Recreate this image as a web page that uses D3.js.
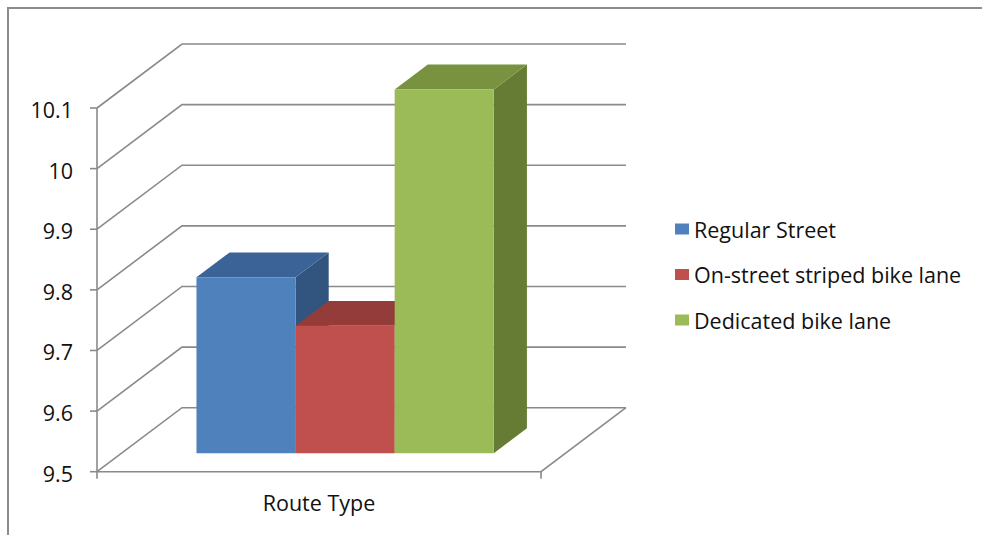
<!DOCTYPE html>
<html>
<head>
<meta charset="utf-8">
<script src="https://cdn.jsdelivr.net/npm/d3@7"></script>
<style>
  html, body { margin: 0; padding: 0; background: #fff; }
  svg { display: block; }
</style>
</head>
<body>
<div id="chart"></div>
<script>
// ------- data -------
const category = "Route Type";
const series = ["Regular Street", "On-street striped bike lane", "Dedicated bike lane"];
const values = [9.79, 9.71, 10.1];
const yTicks = [9.5, 9.6, 9.7, 9.8, 9.9, 10, 10.1];
const tickLabels = ["9.5", "9.6", "9.7", "9.8", "9.9", "10", "10.1"];

// colours per series: front / top / side
const frontColors = ["#4f81bd", "#c0504d", "#9bbb59"];
const topColors = ["#3b6398", "#943c3a", "#78923f"];
const sideColors = ["#32557f", "#87332f", "#667c35"];

(() => {
  const width = 982, height = 535;
  const DX = 85, DY = -64;           // depth offset of the back wall
  const T0 = 0.29, T1 = 0.68;        // bar depth (fraction of floor depth)
  const gridColor = "#8a8a8a";
  const FONT = "'Open Sans', Lato, sans-serif";
  const FS = 21.5;

  const svg = d3.select("#chart").append("svg")
    .attr("width", width).attr("height", height);

  // frame (only top and left edges show)
  svg.append("path")
    .attr("d", `M8,${height} L8,8 L${width},8`)
    .attr("fill", "none").attr("stroke", "#8c8c8c").attr("stroke-width", 2);

  const y = d3.scaleLinear().domain([9.5, 10.1]).range([471.7, 108]);
  const x = d3.scaleBand().domain(series).range([97, 541])
    .paddingInner(0).paddingOuter(0.74).align(0.51);
  const depth = d3.scaleLinear().domain([0, 1]).range([0, 1]);

  const proj = (px, v, t) => [px + DX * depth(t), y(v) + DY * depth(t)];
  const line = d3.line();

  const grid = svg.append("g")
    .attr("fill", "none").attr("stroke", gridColor).attr("stroke-width", 1.6);

  // back wall gridlines + left wall diagonals
  const x0 = x.range()[0], x1 = x.range()[1];
  yTicks.forEach(v => {
    grid.append("path").attr("d", line([
      proj(x0, v, 0), proj(x0, v, 1), proj(x1, v, 1)
    ]));
  });

  // floor front + right edge
  grid.append("path").attr("d", line([
    proj(x0, 9.5, 0), proj(x1, 9.5, 0), proj(x1, 9.5, 1)
  ]));

  // front vertical axis
  grid.append("path").attr("d", line([proj(x0, 9.5, 0), proj(x0, 10.1, 0)]));

  // y ticks + labels
  yTicks.forEach((v, i) => {
    grid.append("path").attr("d", line([[x0 - 7, y(v)], [x0, y(v)]]));
    svg.append("text")
      .attr("x", 73).attr("y", y(v) + 10)
      .attr("text-anchor", "end")
      .attr("font-family", FONT)
      .attr("font-size", FS)
      .attr("fill", "#111")
      .text(tickLabels[i]);
  });

  // x ticks at both ends of the floor
  [x0, x1].forEach(px => {
    grid.append("path").attr("d", line([[px, y(9.5)], [px, y(9.5) + 7]]));
  });

  svg.append("text")
    .attr("x", (x0 + x1) / 2).attr("y", 511)
    .attr("text-anchor", "middle")
    .attr("font-family", FONT)
    .attr("font-size", FS)
    .attr("fill", "#111")
    .text(category);

  // bars, left to right
  const bars = svg.append("g");
  series.forEach((s, i) => {
    const bx0 = x(s), bx1 = x(s) + x.bandwidth(), v = values[i];
    const g = bars.append("g");
    g.append("path")
      .attr("d", line([proj(bx1, 9.5, T0), proj(bx1, v, T0), proj(bx1, v, T1), proj(bx1, 9.5, T1)]) + "Z")
      .attr("fill", sideColors[i]);
    g.append("path")
      .attr("d", line([proj(bx0, v, T0), proj(bx1, v, T0), proj(bx1, v, T1), proj(bx0, v, T1)]) + "Z")
      .attr("fill", topColors[i]);
    g.append("path")
      .attr("d", line([proj(bx0, 9.5, T0), proj(bx1, 9.5, T0), proj(bx1, v, T0), proj(bx0, v, T0)]) + "Z")
      .attr("fill", frontColors[i]);
  });

  // legend
  const legend = svg.append("g").attr("transform", "translate(675,0)");
  series.forEach((s, i) => {
    const cy = 229 + i * 45.5;
    legend.append("rect")
      .attr("x", 0).attr("y", cy - 5.5)
      .attr("width", 14).attr("height", 11)
      .attr("fill", frontColors[i]);
    legend.append("text")
      .attr("x", 19).attr("y", cy + 8.5)
      .attr("font-family", FONT)
      .attr("font-size", FS)
      .attr("fill", "#111")
      .text(s);
  });
})();
</script>
</body>
</html>
